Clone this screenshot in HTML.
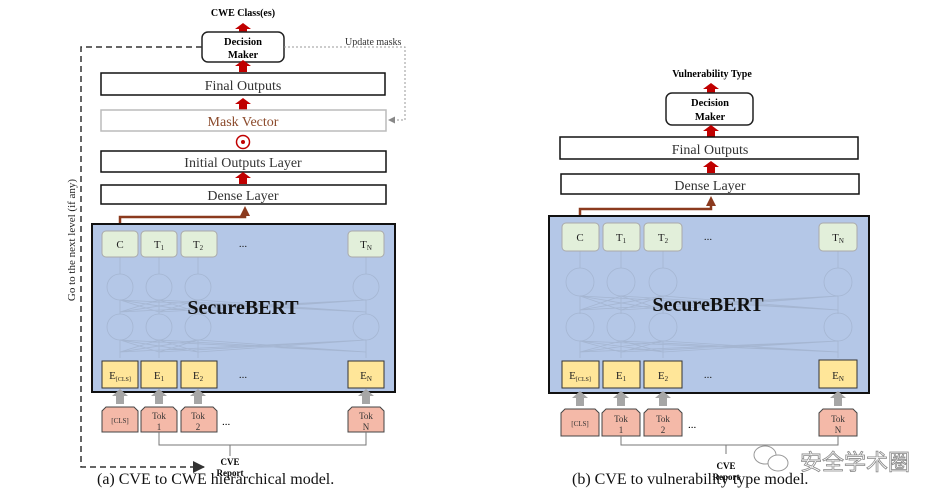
<!DOCTYPE html>
<html><head><meta charset="utf-8"><style>
html,body{margin:0;padding:0;background:#fff;}
svg{display:block;font-family:"Liberation Serif",serif;}
</style></head><body>
<svg width="943" height="502" viewBox="0 0 943 502" xmlns="http://www.w3.org/2000/svg">
<defs>
<marker id="ga" markerUnits="userSpaceOnUse" markerWidth="7" markerHeight="7" refX="6" refY="3.5" orient="auto"><path d="M0,0 L7,3.5 L0,7z" fill="#888"/></marker>
<marker id="ka" markerUnits="userSpaceOnUse" markerWidth="12" markerHeight="12" refX="11" refY="6" orient="auto"><path d="M0,0 L12,6 L0,12z" fill="#333"/></marker>
<marker id="ba" markerUnits="userSpaceOnUse" markerWidth="10" markerHeight="10" refX="5" refY="5" orient="auto"><path d="M0,0 L10,5 L0,10z" fill="#8b3a1e"/></marker>
<g id="redup"><path d="M-8,0 L0,-6 L8,0 L4,0 L4,6 L-4,6 L-4,0z" fill="#c00000"/></g>
<g id="grayup"><path d="M-8,0 L0,-7 L8,0 L4,0 L4,8 L-4,8 L-4,0z" fill="#a6a6a6"/></g>
</defs>

<!-- ================= LEFT PANEL ================= -->
<text x="243" y="16" font-size="10" font-weight="bold" text-anchor="middle">CWE Class(es)</text>
<use href="#redup" x="243" y="29"/>
<rect x="202" y="32" width="82" height="30" rx="6" fill="#fff" stroke="#222" stroke-width="1.5"/>
<text x="243" y="45" font-size="10.5" font-weight="bold" text-anchor="middle">Decision</text>
<text x="243" y="58" font-size="10.5" font-weight="bold" text-anchor="middle">Maker</text>
<path d="M202,47 H81 V467 H204" fill="none" stroke="#333" stroke-width="1.5" stroke-dasharray="6,4" marker-end="url(#ka)"/>
<text transform="translate(75,240) rotate(-90)" font-size="11" text-anchor="middle" fill="#222">Go to the next level (if any)</text>
<text x="345" y="45" font-size="10" fill="#333">Update masks</text>
<path d="M284,47 H405 V120 H389" fill="none" stroke="#999" stroke-width="1" stroke-dasharray="2,2" marker-end="url(#ga)"/>
<use href="#redup" x="243" y="66"/>
<rect x="101" y="73" width="284" height="22" fill="#fff" stroke="#111" stroke-width="1.5"/>
<text x="243" y="90" font-size="14" text-anchor="middle" fill="#333">Final Outputs</text>
<use href="#redup" x="243" y="104"/>
<rect x="101" y="110" width="285" height="21" fill="#fff" stroke="#bbb" stroke-width="1.5"/>
<text x="243" y="126" font-size="14" text-anchor="middle" fill="#8b4a2b">Mask Vector</text>
<circle cx="243" cy="142" r="6.5" fill="#fff" stroke="#c00000" stroke-width="1.5"/>
<circle cx="243" cy="142" r="2" fill="#c00000"/>
<rect x="101" y="151" width="285" height="21" fill="#fff" stroke="#111" stroke-width="1.5"/>
<text x="243" y="167" font-size="14" text-anchor="middle" fill="#333">Initial Outputs Layer</text>
<use href="#redup" x="243" y="178"/>
<rect x="101" y="185" width="285" height="19" fill="#fff" stroke="#111" stroke-width="1.5"/>
<text x="243" y="200" font-size="14" text-anchor="middle" fill="#333">Dense Layer</text>
<path d="M120,232 V217 H245 V211" fill="none" stroke="#8b3a1e" stroke-width="2.5" marker-end="url(#ba)"/>

<rect x="92" y="224" width="303" height="168" fill="#b4c7e7" stroke="#111" stroke-width="2"/>
<g stroke="#a5b6d2" stroke-width="0.8" fill="none">
<path d="M120,358V340 M159,358V340 M198,358V340 M366,358V340 M120,314V300 M159,314V300 M198,314V300 M366,314V300 M120,274V256 M159,274V256 M198,274V256 M366,274V256"/>
<path d="M120,352L159,340 M120,352L198,340 M120,352L366,340 M159,352L120,340 M159,352L198,340 M159,352L366,340 M198,352L120,340 M198,352L159,340 M198,352L366,340 M366,352L120,340 M366,352L159,340 M366,352L198,340"/>
<path d="M120,312L159,300 M120,312L198,300 M120,312L366,300 M159,312L120,300 M159,312L198,300 M159,312L366,300 M198,312L120,300 M198,312L159,300 M198,312L366,300 M366,312L120,300 M366,312L159,300 M366,312L198,300"/>
<circle cx="120" cy="287" r="13"/><circle cx="159" cy="287" r="13"/><circle cx="198" cy="287" r="13"/><circle cx="366" cy="287" r="13"/>
<circle cx="120" cy="327" r="13"/><circle cx="159" cy="327" r="13"/><circle cx="198" cy="327" r="13"/><circle cx="366" cy="327" r="13"/>
</g>
<g fill="#e2efda" stroke="#aaa" stroke-width="1">
<rect x="102" y="231" width="36" height="26" rx="4"/><rect x="141" y="231" width="36" height="26" rx="4"/><rect x="181" y="231" width="36" height="26" rx="4"/><rect x="348" y="231" width="36" height="26" rx="4"/>
</g>
<g font-size="11" text-anchor="middle" fill="#222">
<text x="120" y="248">C</text><text x="159" y="248">T<tspan font-size="7" dy="2">1</tspan></text><text x="198" y="248">T<tspan font-size="7" dy="2">2</tspan></text><text x="243" y="247">...</text><text x="366" y="248">T<tspan font-size="7" dy="2">N</tspan></text>
</g>
<text x="243" y="314" font-size="20" font-weight="bold" text-anchor="middle" fill="#111">SecureBERT</text>
<g fill="#ffe699" stroke="#333" stroke-width="1">
<rect x="102" y="361" width="36" height="27"/><rect x="141" y="361" width="36" height="27"/><rect x="181" y="361" width="36" height="27"/><rect x="348" y="361" width="36" height="27"/>
</g>
<g font-size="11" text-anchor="middle" fill="#222">
<text x="120" y="379">E<tspan font-size="6" dy="2">[CLS]</tspan></text><text x="159" y="379">E<tspan font-size="7" dy="2">1</tspan></text><text x="198" y="379">E<tspan font-size="7" dy="2">2</tspan></text><text x="243" y="378">...</text><text x="366" y="379">E<tspan font-size="7" dy="2">N</tspan></text>
</g>
<use href="#grayup" x="120" y="396"/><use href="#grayup" x="159" y="396"/><use href="#grayup" x="198" y="396"/><use href="#grayup" x="366" y="396"/>
<g fill="#f4b9a8" stroke="#444" stroke-width="1">
<path d="M102,432V411L106,407H134L138,411V432z"/><path d="M141,432V411L145,407H173L177,411V432z"/><path d="M181,432V411L185,407H213L217,411V432z"/><path d="M348,432V411L352,407H380L384,411V432z"/>
</g>
<g font-size="9" text-anchor="middle" fill="#333">
<text x="120" y="423" font-size="7">[CLS]</text><text x="159" y="419">Tok</text><text x="159" y="430">1</text><text x="198" y="419">Tok</text><text x="198" y="430">2</text><text x="366" y="419">Tok</text><text x="366" y="430">N</text>
</g>
<text x="222" y="425" font-size="11">...</text>
<path d="M159,432V445H366V432 M230,445V456" fill="none" stroke="#777" stroke-width="1"/>
<text x="230" y="465" font-size="9" font-weight="bold" text-anchor="middle">CVE</text>
<text x="230" y="476" font-size="9" font-weight="bold" text-anchor="middle">Report</text>
<text x="97" y="484" font-size="16" fill="#111">(a) CVE to CWE hierarchical model.</text>

<!-- ================= RIGHT PANEL ================= -->
<text x="712" y="77" font-size="10" font-weight="bold" text-anchor="middle">Vulnerability Type</text>
<use href="#redup" x="711" y="89"/>
<rect x="666" y="93" width="87" height="32" rx="6" fill="#fff" stroke="#222" stroke-width="1.5"/>
<text x="710" y="106" font-size="10.5" font-weight="bold" text-anchor="middle">Decision</text>
<text x="710" y="120" font-size="10.5" font-weight="bold" text-anchor="middle">Maker</text>
<use href="#redup" x="711" y="131"/>
<rect x="560" y="137" width="298" height="22" fill="#fff" stroke="#111" stroke-width="1.5"/>
<text x="710" y="154" font-size="14" text-anchor="middle" fill="#333">Final Outputs</text>
<use href="#redup" x="711" y="167"/>
<rect x="561" y="174" width="298" height="20" fill="#fff" stroke="#111" stroke-width="1.5"/>
<text x="710" y="190" font-size="14" text-anchor="middle" fill="#333">Dense Layer</text>
<path d="M580,224 V209 H711 V201" fill="none" stroke="#8b3a1e" stroke-width="2.5" marker-end="url(#ba)"/>

<rect x="549" y="216" width="320" height="177" fill="#b4c7e7" stroke="#111" stroke-width="2"/>
<g stroke="#a5b6d2" stroke-width="0.8" fill="none">
<path d="M580,358V341 M621,358V341 M663,358V341 M838,358V341 M580,314V296 M621,314V296 M663,314V296 M838,314V296 M580,268V251 M621,268V251 M663,268V251 M838,268V251"/>
<path d="M580,352L621,341 M580,352L663,341 M580,352L838,341 M621,352L580,341 M621,352L663,341 M621,352L838,341 M663,352L580,341 M663,352L621,341 M663,352L838,341 M838,352L580,341 M838,352L621,341 M838,352L663,341"/>
<path d="M580,310L621,296 M580,310L663,296 M580,310L838,296 M621,310L580,296 M621,310L663,296 M621,310L838,296 M663,310L580,296 M663,310L621,296 M663,310L838,296 M838,310L580,296 M838,310L621,296 M838,310L663,296"/>
<circle cx="580" cy="282" r="14"/><circle cx="621" cy="282" r="14"/><circle cx="663" cy="282" r="14"/><circle cx="838" cy="282" r="14"/>
<circle cx="580" cy="327" r="14"/><circle cx="621" cy="327" r="14"/><circle cx="663" cy="327" r="14"/><circle cx="838" cy="327" r="14"/>
</g>
<g fill="#e2efda" stroke="#aaa" stroke-width="1">
<rect x="562" y="223" width="37" height="28" rx="4"/><rect x="603" y="223" width="37" height="28" rx="4"/><rect x="644" y="223" width="38" height="28" rx="4"/><rect x="819" y="223" width="38" height="28" rx="4"/>
</g>
<g font-size="11" text-anchor="middle" fill="#222">
<text x="580" y="241">C</text><text x="621" y="241">T<tspan font-size="7" dy="2">1</tspan></text><text x="663" y="241">T<tspan font-size="7" dy="2">2</tspan></text><text x="708" y="240">...</text><text x="838" y="241">T<tspan font-size="7" dy="2">N</tspan></text>
</g>
<text x="708" y="311" font-size="20" font-weight="bold" text-anchor="middle" fill="#111">SecureBERT</text>
<g fill="#ffe699" stroke="#333" stroke-width="1">
<rect x="562" y="361" width="37" height="27"/><rect x="603" y="361" width="37" height="27"/><rect x="644" y="361" width="38" height="27"/><rect x="819" y="360" width="38" height="28"/>
</g>
<g font-size="11" text-anchor="middle" fill="#222">
<text x="580" y="379">E<tspan font-size="6" dy="2">[CLS]</tspan></text><text x="621" y="379">E<tspan font-size="7" dy="2">1</tspan></text><text x="663" y="379">E<tspan font-size="7" dy="2">2</tspan></text><text x="708" y="378">...</text><text x="838" y="379">E<tspan font-size="7" dy="2">N</tspan></text>
</g>
<use href="#grayup" x="580" y="398"/><use href="#grayup" x="621" y="398"/><use href="#grayup" x="663" y="398"/><use href="#grayup" x="838" y="398"/>
<g fill="#f4b9a8" stroke="#444" stroke-width="1">
<path d="M561,436V413L565,409H595L599,413V436z"/><path d="M602,436V413L606,409H636L640,413V436z"/><path d="M644,436V413L648,409H678L682,413V436z"/><path d="M819,436V413L823,409H853L857,413V436z"/>
</g>
<g font-size="9" text-anchor="middle" fill="#333">
<text x="580" y="426" font-size="7">[CLS]</text><text x="621" y="422">Tok</text><text x="621" y="433">1</text><text x="663" y="422">Tok</text><text x="663" y="433">2</text><text x="838" y="422">Tok</text><text x="838" y="433">N</text>
</g>
<text x="688" y="428" font-size="11">...</text>
<path d="M621,436V445H838V436 M726,445V454" fill="none" stroke="#777" stroke-width="1"/>
<text x="726" y="469" font-size="9" font-weight="bold" text-anchor="middle">CVE</text>
<text x="726" y="480" font-size="9" font-weight="bold" text-anchor="middle">Report</text>
<text x="572" y="484" font-size="16" fill="#111">(b) CVE to vulnerability type model.</text>

<!-- watermark -->
<g fill="#fff" stroke="#999" stroke-width="1">
<ellipse cx="765" cy="455" rx="11" ry="9"/><ellipse cx="778" cy="463" rx="10" ry="8"/>
</g>
<text x="800" y="470" font-size="22" fill="#fff" stroke="#888" stroke-width="0.8" style="font-family:'Noto Sans CJK SC','WenQuanYi Zen Hei',sans-serif">安全学术圈</text>
</svg>
</body></html>
